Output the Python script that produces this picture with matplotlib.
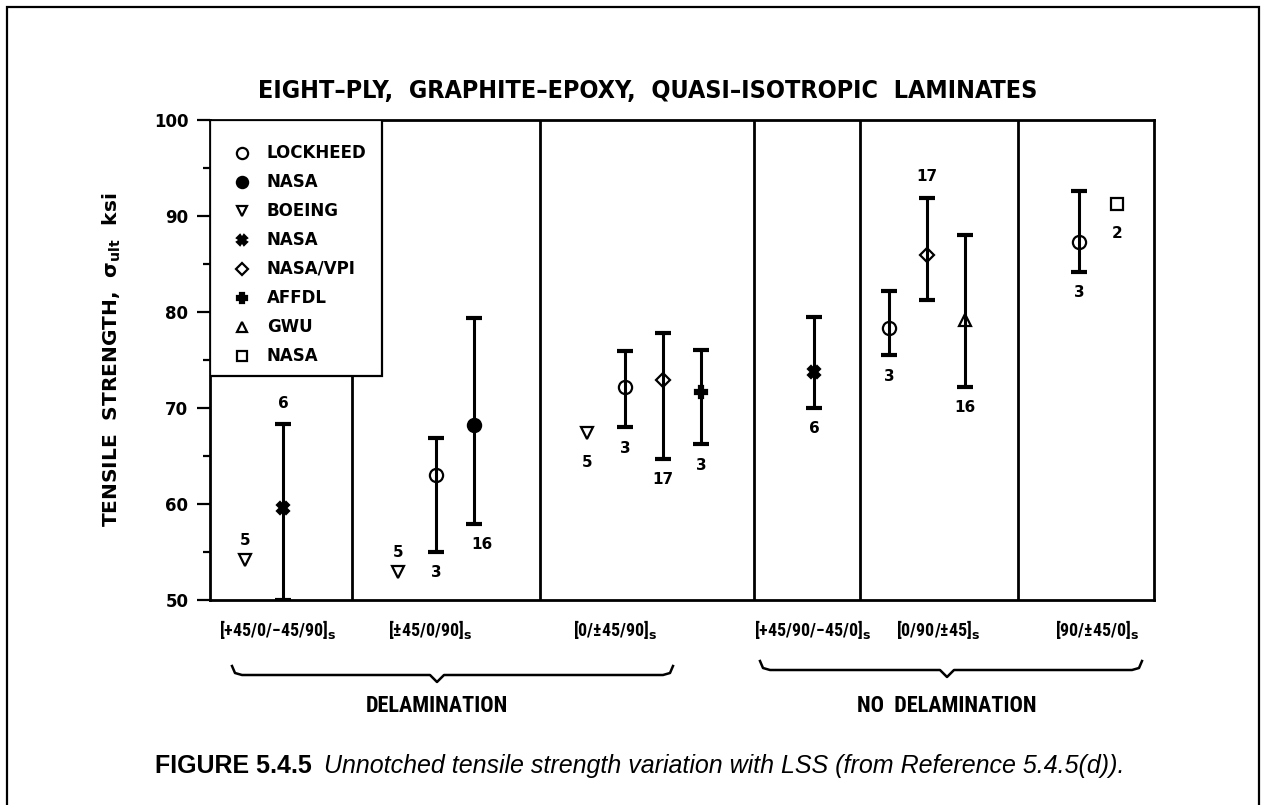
import numpy as np
import matplotlib
matplotlib.use("Agg")
import matplotlib.pyplot as plt
from matplotlib import font_manager
from matplotlib.lines import Line2D
from matplotlib.patches import Rectangle

# ---- data -------------------------------------------------------------
layups = ["[+45/0/\u221245/90]", "[\u00b145/0/90]", "[0/\u00b145/90]",
          "[+45/90/\u221245/0]", "[0/90/\u00b145]", "[90/\u00b145/0]"]
group_names = ["DELAMINATION", "NO  DELAMINATION"]

sources = ["LOCKHEED", "NASA", "BOEING", "NASA", "NASA/VPI", "AFFDL", "GWU", "NASA"]

# one entry per plotted result
pt_layup = [0, 0, 1, 1, 1, 2, 2, 2, 2, 3, 4, 4, 4, 5, 5]
pt_source = [2, 3, 2, 0, 1, 2, 0, 4, 5, 3, 0, 4, 6, 0, 7]
pt_mean = [54.2, 59.6, 52.9, 63.0, 68.2, 67.4, 72.2, 72.9, 71.7,
           73.8, 78.3, 85.9, 79.2, 87.3, 91.2]
pt_low = [np.nan, 50.0, np.nan, 55.0, 57.9, np.nan, 68.0, 64.7, 66.2,
          70.0, 75.5, 81.3, 72.2, 84.2, np.nan]
pt_high = [np.nan, 68.3, np.nan, 66.9, 79.4, np.nan, 75.9, 77.8, 76.0,
           79.5, 82.2, 91.9, 88.0, 92.6, np.nan]
pt_count = [5, 6, 5, 3, 16, 5, 3, 17, 3, 6, 3, 17, 16, 3, 2]

y_ticks = [50, 60, 70, 80, 90, 100]

# ---- styling / layout -------------------------------------------------
src_marker = ["o", "o", "v", "X", "D", "P", "^", "s"]
src_filled = [False, True, False, True, False, True, False, False]
src_size = [9.5, 9.5, 9.0, 8.0, 7.5, 9.0, 9.0, 8.0]

x_width = 944.0
panel_edges = [0, 142, 330, 544, 650, 808, 944]
first_slot = [35, 188, 377, 604, 679, 869]
slot_step = 38
label_pos = [68, 220, 405, 603, 728, 887]
count_side = [1, 1, 1, -1, -1, -1, -1, -1, -1, -1, -1, 1, -1, -1, -1]
count_dx = [0, 0, 0, 0, 6, 0, 0, 0, 0, 0, 0, 0, 0, 0, 0]

W, H = 1266, 805
plt.rcParams["font.family"] = ["DejaVu Sans"]
plt.rcParams["mathtext.fontset"] = "dejavusans"

# narrowest installed sans for the lay-up labels
installed = {f.name for f in font_manager.fontManager.ttflist}
narrow_family = "DejaVu Sans"
for cand in ["Liberation Sans Narrow", "Roboto Condensed", "Open Sans Condensed",
             "Noto Sans Condensed", "DejaVu Sans"]:
    if cand in installed:
        narrow_family = cand
        break
NARROW = dict(family=[narrow_family, "DejaVu Sans"], fontstretch="condensed")

fig = plt.figure(figsize=(W / 100, H / 100), dpi=100)
ax = fig.add_axes([210 / W, 1 - 600 / H, 944 / W, 480 / H])
ax.set_xlim(0, x_width)
ax.set_ylim(50, 100)


def px(x, y):
    return x / W, 1 - y / H


# point x positions from panel slot layout
xs = []
seen = {}
for g in pt_layup:
    k = seen.get(g, 0)
    xs.append(first_slot[g] + k * slot_step)
    seen[g] = k + 1
xs = np.array(xs, float)
mean = np.array(pt_mean)
low = np.array(pt_low)
high = np.array(pt_high)
has_bar = ~np.isnan(low)

# error bars
ax.errorbar(xs[has_bar], mean[has_bar],
            yerr=[mean[has_bar] - low[has_bar], high[has_bar] - mean[has_bar]],
            fmt="none", ecolor="black", elinewidth=2.2, capsize=5.5,
            capthick=3.0, zorder=3)

# markers
for x, m, s in zip(xs, mean, pt_source):
    ax.plot([x], [m], linestyle="none", marker=src_marker[s],
            markersize=src_size[s], markeredgewidth=1.6,
            markeredgecolor="black",
            markerfacecolor="black" if src_filled[s] else "none", zorder=4)

# sample counts
for i, (x, m) in enumerate(zip(xs, mean)):
    side = count_side[i]
    if has_bar[i]:
        yref = high[i] if side > 0 else low[i]
        off = 15
    else:
        yref = m
        off = 14 if side > 0 else 21
    ax.annotate(str(pt_count[i]), (x, yref), xytext=(count_dx[i], side * off),
                textcoords="offset points", ha="center", va="center",
                fontsize=11, fontweight="bold")

# panel separators
legend_bottom = 73.3
for j, e in enumerate(panel_edges[1:-1]):
    if j == 0:
        ax.plot([e, e], [50, legend_bottom], color="black", lw=2.0, zorder=2)
    else:
        ax.axvline(e, color="black", lw=2.0, zorder=2)

# legend box with marker key
ax.add_patch(Rectangle((0, legend_bottom), 172, 100 - legend_bottom,
                       facecolor="white", edgecolor="black", lw=1.6, zorder=5))
for r, name in enumerate(sources):
    yrow = 96.6 - r * 3.03
    ax.plot([32], [yrow], linestyle="none", marker=src_marker[r],
            markersize=src_size[r] * 0.85, markeredgewidth=1.6,
            markeredgecolor="black",
            markerfacecolor="black" if src_filled[r] else "none",
            zorder=6, clip_on=False)
    ax.text(57, yrow, name, ha="left", va="center", fontsize=12,
            fontweight="bold", zorder=6)

# axes styling
for sp in ax.spines.values():
    sp.set_linewidth(2.0)
ax.set_yticks(y_ticks)
ax.set_yticks(np.arange(55, 100, 10), minor=True)
ax.set_yticklabels([str(v) for v in y_ticks], fontsize=12, fontweight="bold")
ax.tick_params(axis="y", which="major", direction="out", length=9.5, width=1.6, pad=6)
ax.tick_params(axis="y", which="minor", direction="out", length=5, width=1.6)
ax.set_xticks(label_pos)
ax.set_xticklabels([l + r"$_{\mathbf{s}}$" for l in layups], fontsize=13,
                   fontweight="bold", **NARROW)
ax.tick_params(axis="x", length=0, pad=13)

ax.set_ylabel("TENSILE  STRENGTH,  \u03c3$_{\\mathbf{ult}}$  ksi", fontsize=14.5,
              fontweight="bold")
ax.yaxis.label.set_va("center")
ax.yaxis.set_label_coords((112 - 210) / 944, 0.5)

ax.set_title("EIGHT\u2013PLY,  GRAPHITE\u2013EPOXY,  QUASI\u2013ISOTROPIC  LAMINATES",
             fontsize=18, fontweight="bold", fontstretch="condensed", pad=16)
ax.title.set_x((648 - 210) / 944)


# braces grouping the layups
def brace(x0, x1, tip, y):
    pts = [(x0, y - 9), (x0 + 3, y - 2), (x0 + 10, y), (tip - 7, y), (tip, y + 7),
           (tip + 7, y), (x1 - 10, y), (x1 - 3, y - 2), (x1, y - 9)]
    xx, yy = zip(*[px(a, b) for a, b in pts])
    fig.add_artist(Line2D(xx, yy, color="black", lw=1.8,
                          solid_joinstyle="round", transform=fig.transFigure))


brace(232, 673, 437, 675)
brace(760, 1142, 947, 670)
fig.text(*px(437, 706), group_names[0], ha="center", va="center", fontsize=16,
         fontweight="bold", **NARROW)
fig.text(*px(947, 706), group_names[1], ha="center", va="center", fontsize=16,
         fontweight="bold", **NARROW)

# outer frame
fig.add_artist(Rectangle(px(7, 830), (1259 - 7) / W, (830 - 7) / H,
                         transform=fig.transFigure, fill=False,
                         edgecolor="black", lw=1.6))

# caption: bold figure number followed by italic description, centred as a unit
cap_font = ["Liberation Sans", "DejaVu Sans"]
cap_y = 1 - 766 / H
t1 = fig.text(0, cap_y, "FIGURE 5.4.5", ha="left", va="center",
              fontsize=18, fontweight="bold", family=cap_font)
t2 = fig.text(0, cap_y,
              "Unnotched tensile strength variation with LSS (from Reference 5.4.5(d)).",
              ha="left", va="center", fontsize=18, fontstyle="italic", family=cap_font)
fig.canvas.draw()
w1 = t1.get_window_extent().width
w2 = t2.get_window_extent().width
gap = 12
start = 640 - (w1 + gap + w2) / 2
t1.set_x(start / W)
t2.set_x((start + w1 + gap) / W)

fig.savefig("out.png", dpi=100)
